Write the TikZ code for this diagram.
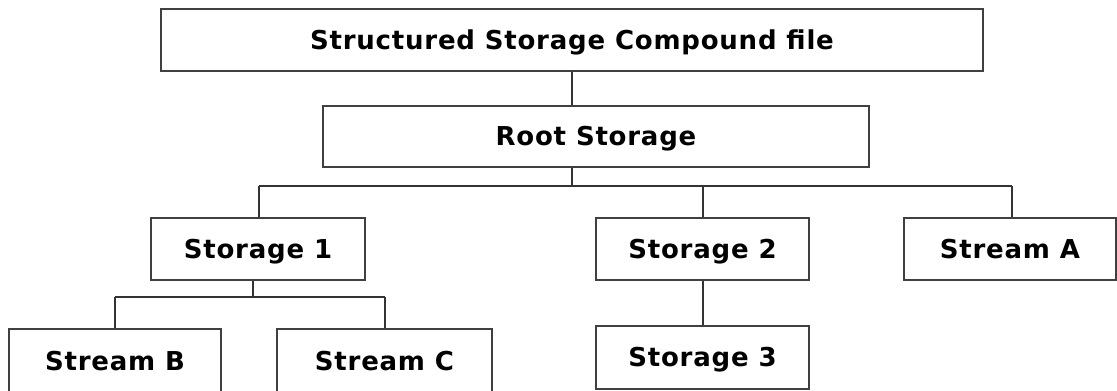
\documentclass[tikz,border=0pt]{standalone}
\usepackage{fontspec}
\setmainfont{DejaVu Sans}[LetterSpace=3]
\begin{document}
\begin{tikzpicture}[x=1pt,y=-1pt,
  box/.style={draw=black!75, line width=1.6pt, fill=white, inner sep=0pt,
    font=\bfseries\fontsize{26}{30}\selectfont, text=black,
    text height=18.5pt, text depth=0pt},
  conn/.style={draw=black!80, line width=2pt}]
\useasboundingbox (0,0) rectangle (1117,391);
\node[box, minimum width=822pt, minimum height=62pt] (top) at (572,40) {Structured Storage Compound file};
\node[box, minimum width=546pt, minimum height=61pt] (root) at (596,136.5) {Root Storage};
\node[box, minimum width=214pt, minimum height=62pt] (s1) at (258,249) {Storage 1};
\node[box, minimum width=213pt, minimum height=62pt] (s2) at (702.5,249) {Storage 2};
\node[box, minimum width=212pt, minimum height=62pt] (sa) at (1010,249) {Stream A};
\node[box, minimum width=213pt, minimum height=63pt] (s3) at (702.5,357.5) {Storage 3};
\node[box, minimum width=212pt, minimum height=64pt] (sb) at (115,361) {Stream B};
\node[box, minimum width=215pt, minimum height=64pt] (sc) at (384.5,361) {Stream C};
\coordinate (bus) at (572,185.5);
\coordinate (bus2) at (253,297);
% top to root
\draw[conn] (top.south) -- (top.south |- root.north);
% root to bus
\draw[conn] (top.south |- root.south) -- (bus);
\draw[conn] (bus -| 259,0) -- (bus -| 1012,0);
\draw[conn] (bus -| 259,0) -- (s1.north -| 259,0);
\draw[conn] (bus -| s2.north) -- (s2.north);
\draw[conn] (bus -| 1012,0) -- (sa.north -| 1012,0);
% storage 1 children
\draw[conn] (s1.south -| bus2) -- (bus2);
\draw[conn] (bus2 -| sb.north) -- (bus2 -| sc.north);
\draw[conn] (bus2 -| sb.north) -- (sb.north);
\draw[conn] (bus2 -| sc.north) -- (sc.north);
% storage 2 to storage 3
\draw[conn] (s2.south) -- (s3.north);
\end{tikzpicture}
\end{document}
